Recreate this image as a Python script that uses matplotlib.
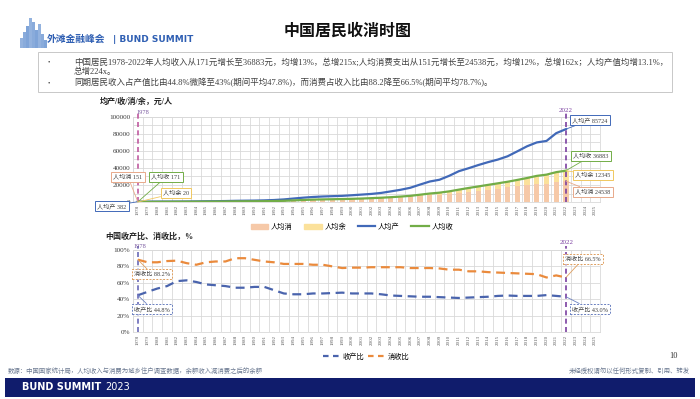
import matplotlib.pyplot as plt
import matplotlib.patches as patches
from matplotlib.lines import Line2D
from matplotlib.ticker import MultipleLocator, FuncFormatter
import numpy as np

plt.rcParams['font.family'] = ['Liberation Serif', 'Noto Sans CJK SC', 'DejaVu Sans']

W, H = 700, 399

# ---- data (per capita, yuan) ----
axis_years = [str(y) for y in range(1978, 2026)]
data_years = list(range(1978, 2023))

gdp_pc = [382, 423, 468, 497, 533, 588, 702, 866, 973, 1123, 1378, 1536, 1663, 1912,
          2334, 3027, 4081, 5091, 5898, 6481, 6860, 7229, 7942, 8717, 9506, 10666,
          12487, 14368, 16738, 20494, 24100, 26180, 30808, 36277, 39771, 43497,
          46912, 49922, 53783, 59592, 65534, 70078, 71828, 80976, 85724]

income_pc = [171, 200, 230, 260, 300, 345, 400, 480, 550, 620, 740, 830, 904, 976,
             1125, 1385, 1870, 2363, 2814, 3070, 3254, 3485, 3721, 4070, 4532, 5007,
             5661, 6385, 7229, 8584, 9957, 10977, 12520, 14551, 16510, 18311,
             20167, 21966, 23821, 25974, 28228, 30733, 32189, 35128, 36883]

consume_pc = [151, 172, 198, 225, 262, 290, 328, 408, 473, 533, 673, 730, 777, 839,
              956, 1150, 1552, 1961, 2307, 2518, 2603, 2718, 2921, 3195, 3580, 3956,
              4472, 5044, 5638, 6696, 7766, 8562, 9515, 11059, 12220, 13220,
              14491, 15712, 17111, 18322, 19853, 21559, 21210, 24100, 24538]

# ---- ratios (%) ----
income_gdp_pct = [44.8, 49, 53, 56, 62, 63, 61, 58, 57, 56, 54, 54, 55, 55,
                  51, 47, 46, 46, 47, 47, 47.5, 48, 47, 47, 47, 46,
                  44.5, 44, 43.5, 43, 43, 42.5, 42, 41.5, 42, 42.5,
                  43, 44, 44.5, 44, 44, 44, 45, 44, 43.0]

consume_income_pct = [88.2, 85, 85, 86.5, 87, 84, 82, 85, 86, 86, 90, 90, 88, 86,
                      85, 83, 83, 83, 82, 82, 80, 78, 78.5, 78.5, 79, 79,
                      79, 79, 78, 78, 78, 77.5, 76, 76, 74, 74,
                      73, 72.5, 72, 71.5, 71, 70.5, 66.5, 69, 66.5]

surplus_pc = np.array(income_pc) - np.array(consume_pc)
xd = np.arange(len(data_years))
xa = np.arange(len(axis_years))

C_BLUE = '#4169b8'
C_GREEN = '#72ad47'
C_SALMON = '#f6c9a8'
C_YELLOW = '#fbe19b'
C_ORANGE = '#ea8a3c'
C_DBLUE = '#4a64ad'
C_PURPLE = '#7a3fa0'
C_GRID = '#d9d9d9'


def fx(x):
    return x / W


def fy(y):
    return 1 - y / H


def style_axes(ax):
    ax.set_xlim(-0.5, len(axis_years) - 0.5)
    ax.set_xticks(xa)
    ax.set_xticklabels(axis_years, rotation=90, fontsize=3.6, color='#595959')
    ax.set_xticks(np.arange(-0.5, len(axis_years), 1), minor=True)
    ax.grid(True, which='minor', axis='x', color=C_GRID, lw=0.6)
    ax.tick_params(axis='both', which='both', length=0, pad=2)
    ax.tick_params(axis='y', labelsize=5.2, colors='#404040')
    for s in ax.spines.values():
        s.set_color(C_GRID)
        s.set_linewidth(0.6)
    ax.set_axisbelow(True)


def tag(ax, x, y, text, cx, cy, color, ls='-'):
    ax.annotate(text, xy=(x, y), xytext=(fx(cx), fy(cy)), textcoords='figure fraction',
                fontsize=4.4, color='#404040', ha='center', va='center',
                bbox=dict(boxstyle='square,pad=0.35', fc='white', ec=color, lw=0.7, ls=ls),
                arrowprops=dict(arrowstyle='-', color=color, lw=0.6, shrinkA=0, shrinkB=0),
                annotation_clip=False, zorder=8)


fig = plt.figure(figsize=(7, 3.99), dpi=100)

# ---- header ----
fig.text(fx(348), fy(31), '中国居民收消时图', fontsize=11.5, weight='bold',
         family='Noto Sans CJK SC', ha='center', va='center', color='#111111')
sky = [10, 16, 22, 30, 26, 18, 24, 14, 8]
for i, h in enumerate(sky):
    fig.patches.append(patches.Rectangle((fx(20 + i * 3), fy(48)), 2.6 / W, h / H,
                                         transform=fig.transFigure, fc='#3b74c4',
                                         alpha=0.55 + 0.05 * (i % 3), ec='none'))
fig.text(fx(47), fy(39), '外滩金融峰会', fontsize=7, weight='bold', family='Noto Sans CJK SC',
         color='#2f5fb3', va='center')
fig.text(fx(113), fy(39), '| BUND SUMMIT', fontsize=6.5, weight='bold', family='DejaVu Sans',
         color='#2f5fb3', va='center')

fig.patches.append(patches.Rectangle((fx(38), fy(92)), (672 - 38) / W, 40 / H,
                                     transform=fig.transFigure, fc='white', ec='#c8c8c8', lw=0.7))
bullets = [
    (62, '中国居民1978-2022年人均收入从171元增长至36883元，均增13%，总增215x;人均消费支出从151元增长至24538元，均增12%，总增162x；人均产值均增13.1%，'),
    (72, '总增224x。'),
    (83, '同期居民收入占产值比由44.8%微降至43%(期间平均47.8%)，而消费占收入比由88.2降至66.5%(期间平均78.7%)。'),
]
for yy, t in bullets:
    fig.text(fx(74), fy(yy), t, fontsize=6.1, color='#404040', va='center')
fig.text(fx(48), fy(62), '•', fontsize=5, color='#404040', va='center')
fig.text(fx(48), fy(83), '•', fontsize=5, color='#404040', va='center')

# ---- top chart ----
ax1 = fig.add_axes([fx(133), fy(202), (600 - 133) / W, (202 - 117) / H])
style_axes(ax1)
ax1.bar(xd, consume_pc, width=0.55, color=C_SALMON, zorder=2)
ax1.bar(xd, surplus_pc, width=0.55, bottom=consume_pc, color=C_YELLOW, zorder=2)
ax1.plot(xd, gdp_pc, color=C_BLUE, lw=1.6, zorder=4)
ax1.plot(xd, income_pc, color=C_GREEN, lw=1.6, zorder=4)
ax1.set_ylim(0, 100000)
ax1.yaxis.set_major_locator(MultipleLocator(20000))
ax1.yaxis.set_minor_locator(MultipleLocator(10000))
ax1.grid(True, which='both', axis='y', color=C_GRID, lw=0.6)
fig.text(fx(100), fy(102), '均产/收/消/余，元/人', fontsize=5.8, weight='bold', va='center',
         color='#222222')

first, last = 0, len(data_years) - 1
ax1.axvline(first, ymin=0, ymax=1.05, color='#c05aa0', ls=(0, (3, 2)), lw=1.2, clip_on=False, zorder=5)
ax1.axvline(last, ymin=0, ymax=1.05, color=C_PURPLE, ls=(0, (3, 2)), lw=1.2, clip_on=False, zorder=5)
fig.text(fx(143), fy(113), '1978', fontsize=4.6, color='#7a5aa0', ha='center', va='center')
fig.text(fx(566), fy(110), '2022', fontsize=5, color=C_PURPLE, ha='center', va='center')

tag(ax1, first, gdp_pc[0], f'人均产 {gdp_pc[0]}', 112, 206, C_BLUE)
tag(ax1, first, consume_pc[0], f'人均消 {consume_pc[0]}', 128, 177, '#e8a98a')
tag(ax1, first, income_pc[0], f'人均收 {income_pc[0]}', 166, 177, C_GREEN)
tag(ax1, first, surplus_pc[0], f'人均余 {surplus_pc[0]}', 176, 193, '#f0c860')
tag(ax1, last, gdp_pc[-1], f'人均产 {gdp_pc[-1]}', 590, 120, C_BLUE)
tag(ax1, last, income_pc[-1], f'人均收 {income_pc[-1]}', 591, 156, C_GREEN)
tag(ax1, last, income_pc[-1], f'人均余 {surplus_pc[-1]}', 593, 175, '#f0c860')
tag(ax1, last, consume_pc[-1], f'人均消 {consume_pc[-1]}', 593, 192, '#e8a98a')

h1 = [patches.Patch(color=C_SALMON), patches.Patch(color=C_YELLOW),
      Line2D([], [], color=C_BLUE, lw=1.6), Line2D([], [], color=C_GREEN, lw=1.6)]
fig.legend(h1, ['人均消', '人均余', '人均产', '人均收'], loc='center', ncol=4,
           bbox_to_anchor=(fx(352), fy(226)), frameon=False, fontsize=5.2,
           handlelength=2.4, handleheight=0.7, columnspacing=1.6, handletextpad=0.4)

# ---- bottom chart ----
ax2 = fig.add_axes([fx(133), fy(332), (600 - 133) / W, (332 - 250) / H])
style_axes(ax2)
ax2.plot(xd, np.array(income_gdp_pct) / 100, color=C_DBLUE, lw=1.6, ls=(0, (4, 2.5)), zorder=4)
ax2.plot(xd, np.array(consume_income_pct) / 100, color=C_ORANGE, lw=1.6, ls=(0, (4, 2.5)), zorder=4)
ax2.set_ylim(0, 1)
ax2.yaxis.set_major_locator(MultipleLocator(0.2))
ax2.yaxis.set_major_formatter(FuncFormatter(lambda v, p: f'{v * 100:.0f}%'))
ax2.grid(True, which='major', axis='y', color=C_GRID, lw=0.6)
fig.text(fx(105), fy(237), '中国收产比、消收比，%', fontsize=5.8, weight='bold', va='center',
         color='#222222')

ax2.axvline(first, ymin=0, ymax=1.05, color='#6a6ab8', ls=(0, (3, 2)), lw=1.2, clip_on=False, zorder=5)
ax2.axvline(last, ymin=0, ymax=1.05, color=C_PURPLE, ls=(0, (3, 2)), lw=1.2, clip_on=False, zorder=5)
fig.text(fx(140), fy(246), '1978', fontsize=4.6, color='#7a5aa0', ha='center', va='center')
fig.text(fx(567), fy(243), '2022', fontsize=5, color=C_PURPLE, ha='center', va='center')

tag(ax2, first, consume_income_pct[0] / 100, f'消收比 {consume_income_pct[0]:.1f}%', 152, 274, '#e0a060', ls=(0, (2, 1.5)))
tag(ax2, first, income_gdp_pct[0] / 100, f'收产比 {income_gdp_pct[0]:.1f}%', 152, 309, '#6a80c0', ls=(0, (2, 1.5)))
tag(ax2, last, consume_income_pct[-1] / 100, f'消收比 {consume_income_pct[-1]:.1f}%', 583, 259, '#e0a060', ls=(0, (2, 1.5)))
tag(ax2, last, income_gdp_pct[-1] / 100, f'收产比 {income_gdp_pct[-1]:.1f}%', 590, 309, '#6a80c0', ls=(0, (2, 1.5)))

h2 = [Line2D([], [], color=C_DBLUE, lw=1.6, ls=(0, (2.5, 2))),
      Line2D([], [], color=C_ORANGE, lw=1.6, ls=(0, (2.5, 2)))]
fig.legend(h2, ['收产比', '消收比'], loc='center', ncol=2, bbox_to_anchor=(fx(366), fy(356)),
           frameon=False, fontsize=5.2, handlelength=2.4, columnspacing=0.6, handletextpad=0.3)

# ---- footer ----
fig.text(fx(674), fy(356), '10', fontsize=6, color='#333333', ha='center', va='center')
fig.text(fx(8), fy(371), '数源：中国国家统计局，人均收入与消费为城乡住户调查数据，余额收入减消费之后的余额',
         fontsize=4.6, color='#6a7890', family='Noto Sans CJK SC', va='center')
fig.text(fx(690), fy(371), '未经授权请勿以任何形式复制、引用、转发', fontsize=4.6, color='#6a7890',
         family='Noto Sans CJK SC', ha='right', va='center')
fig.patches.append(patches.Rectangle((fx(5), fy(397)), 690 / W, 19 / H, transform=fig.transFigure,
                                     fc='#101c6c', ec='none'))
brand = fig.text(fx(22), fy(387.5), 'BUND SUMMIT', fontsize=7, weight='bold', color='white',
                 family='DejaVu Sans', va='center')
renderer = fig.canvas.get_renderer()
bb = brand.get_window_extent(renderer=renderer)
fig.text(fx(bb.x1 + 4), fy(387.5), '2023', fontsize=7, color='white', family='DejaVu Sans',
         va='center')

fig.savefig('out.png', dpi=100)
